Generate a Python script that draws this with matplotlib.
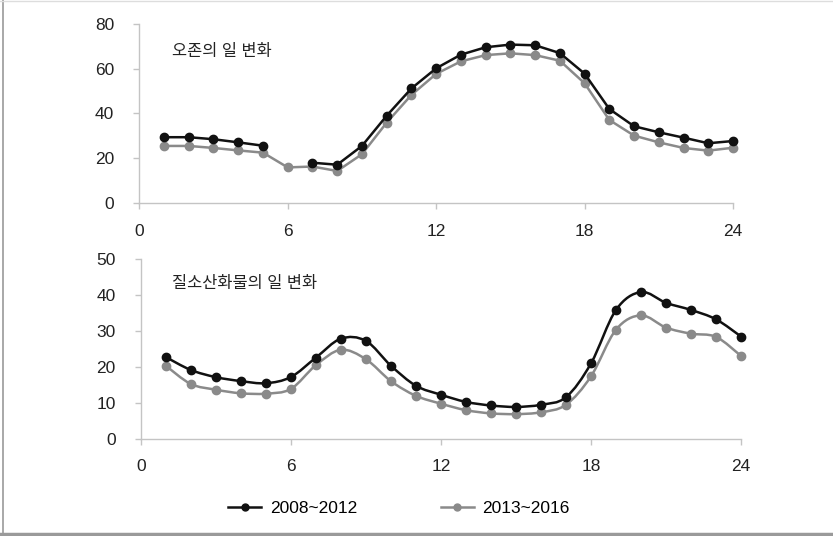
import numpy as np
import matplotlib
matplotlib.use('Agg')
import matplotlib.pyplot as plt
from matplotlib.path import Path
from matplotlib.patches import PathPatch
from matplotlib.lines import Line2D

plt.rcParams['font.family'] = ['Liberation Sans', 'Noto Sans CJK KR', 'DejaVu Sans']

hours = list(range(1, 25))

# ozone, hourly mean
ozone_0812 = [29.4, 29.4, 28.5, 27.1, 25.6, np.nan, 18.0, 17.1, 25.5, 39.0, 51.2, 60.2,
              66.3, 69.6, 70.8, 70.5, 67.0, 57.8, 42.0, 34.3, 31.6, 29.2, 26.7, 27.7]
ozone_1316 = [25.5, 25.5, 24.6, 23.5, 22.5, 15.9, 16.3, 14.3, 21.8, 35.9, 48.3, 57.7,
              63.3, 66.1, 66.9, 66.1, 63.6, 53.5, 37.1, 30.1, 27.1, 24.6, 23.4, 24.7]

# nitrogen oxides, hourly mean
nox_0812 = [22.7, 19.1, 17.1, 16.0, 15.4, 17.1, 22.5, 27.8, 27.2, 20.3, 14.7, 12.2,
            10.2, 9.2, 8.8, 9.4, 11.5, 20.9, 35.8, 40.8, 37.8, 35.8, 33.2, 28.4]
nox_1316 = [20.3, 15.2, 13.6, 12.6, 12.5, 13.8, 20.4, 24.7, 22.1, 16.0, 11.9, 9.7,
            7.9, 7.0, 6.8, 7.3, 9.4, 17.3, 30.3, 34.3, 30.9, 29.2, 28.3, 23.0]

labels = ['2008~2012', '2013~2016']
titles = ['오존의 일 변화', '질소산화물의 일 변화']

BLACK = '#111111'
GRAY = '#8a8a8a'
SPINE = '#c4c4c4'


def smooth_path(x, y):
    # cubic bezier through every point (Catmull-Rom style handles)
    x = np.asarray(x, float)
    y = np.asarray(y, float)
    verts = [(x[0], y[0])]
    codes = [Path.MOVETO]
    n = len(x)
    for i in range(n - 1):
        p0 = np.array([x[max(i - 1, 0)], y[max(i - 1, 0)]])
        p1 = np.array([x[i], y[i]])
        p2 = np.array([x[i + 1], y[i + 1]])
        p3 = np.array([x[min(i + 2, n - 1)], y[min(i + 2, n - 1)]])
        c1 = p1 + (p2 - p0) / 6
        c2 = p2 - (p3 - p1) / 6
        verts += [tuple(c1), tuple(c2), tuple(p2)]
        codes += [Path.CURVE4] * 3
    return Path(verts, codes)


def style_axes(ax, ymax, ystep):
    ax.set_xlim(0, 24)
    ax.set_ylim(0, ymax)
    ax.set_xticks([0, 6, 12, 18, 24])
    ax.set_yticks(np.arange(0, ymax + 1, ystep))
    for s in ['top', 'right']:
        ax.spines[s].set_visible(False)
    for s in ['left', 'bottom']:
        ax.spines[s].set_color(SPINE)
        ax.spines[s].set_linewidth(1.0)
    ax.tick_params(axis='both', colors=SPINE, labelcolor='#222222', labelsize=12.5,
                   length=4, width=1.0, direction='out')
    ax.tick_params(axis='x', pad=11)
    ax.tick_params(axis='y', pad=14)
    ax.patch.set_alpha(0)


fig = plt.figure(figsize=(8.33, 5.36), dpi=100)

ax1 = fig.add_axes([0.1672, 0.6213, 0.7128, 0.3339])
ax1.plot(hours, ozone_1316, color=GRAY, lw=1.8, marker='o', ms=6, clip_on=False)
ax1.plot(hours, ozone_0812, color=BLACK, lw=1.8, marker='o', ms=6, clip_on=False)
style_axes(ax1, 80, 20)
ax1.text(0.055, 0.849, titles[0], transform=ax1.transAxes, fontsize=11.8,
         va='center', ha='left', color='#222222')

ax2 = fig.add_axes([0.1689, 0.1819, 0.7207, 0.3349])
for series, color in [(nox_1316, GRAY), (nox_0812, BLACK)]:
    ax2.add_patch(PathPatch(smooth_path(hours, series), facecolor='none',
                            edgecolor=color, lw=1.8, clip_on=False))
    ax2.plot(hours, series, ls='none', color=color, marker='o', ms=6, clip_on=False)
style_axes(ax2, 50, 10)
ax2.text(0.052, 0.861, titles[1], transform=ax2.transAxes, fontsize=11.8,
         va='center', ha='left', color='#222222')

handles = [Line2D([], [], color=BLACK, lw=1.8, marker='o', ms=5),
           Line2D([], [], color=GRAY, lw=1.8, marker='o', ms=5)]
fig.legend(handles, labels, loc='center', bbox_to_anchor=(0.479, 0.052), ncol=2,
           frameon=False, fontsize=12.5, handlelength=1.9, handletextpad=0.5,
           columnspacing=4.8)

# thin frame around the figure
fig.add_artist(Line2D([0.004, 0.004], [0.005, 1.0], transform=fig.transFigure,
                      color='#9a9a9a', lw=1.2))
fig.add_artist(Line2D([0.0, 1.0], [0.004, 0.004], transform=fig.transFigure,
                      color='#9a9a9a', lw=2.5))
fig.add_artist(Line2D([0.0, 1.0], [0.999, 0.999], transform=fig.transFigure,
                      color='#dddddd', lw=1.0))

fig.savefig('out.png', dpi=100)
